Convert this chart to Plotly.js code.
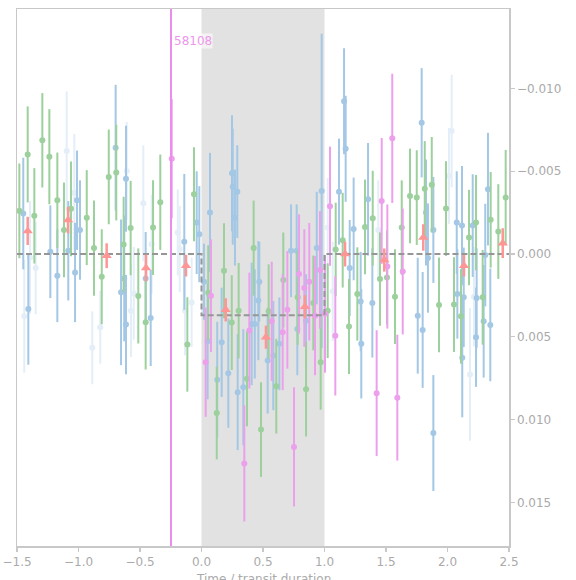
<!DOCTYPE html>
<html>
<head>
<meta charset="utf-8">
<script src="https://cdn.plot.ly/plotly-3.0.1.min.js"></script>
<style>
  html, body { margin: 0; padding: 0; background: #fff; }
  #plot { width: 576px; height: 580px; }
</style>
</head>
<body>
<div id="plot"></div>
<script>
// Phase-folded transit light curve: individual epochs plus binned averages.

// Epoch A (green)
const greenX = [-1.481,-1.413,-1.359,-1.294,-1.237,-1.172,-1.118,-1.061,-0.933,-0.874,-0.811,-0.754,-0.693,-0.633,-0.576,-0.514,-0.454,-0.394,-0.335,-0.115,-0.061,0.055,0.124,0.183,0.246,0.302,0.370,0.424,0.484,0.546,0.608,0.665,0.782,0.850,0.909,0.969,1.026,1.091,1.148,1.199,1.267,1.329,1.392,1.451,1.508,1.573,1.628,1.695,1.750,1.815,1.872,1.931,1.988,2.053,2.110,2.175,2.232,2.286,2.351,2.413,2.473];
const greenY = [-0.00261,-0.00602,-0.00231,-0.00687,-0.00588,-0.00325,-0.00146,-0.00273,-0.00220,-0.00036,0.00137,-0.00466,-0.00492,-0.00058,-0.00157,0.00253,0.00412,-0.00160,-0.00313,0.00546,-0.00361,0.00233,0.00960,0.00101,0.00414,0.00342,0.00753,-0.00036,0.01060,0.00346,0.00798,0.00157,0.00261,0.00816,0.00295,0.00653,0.00342,-0.00028,-0.00084,0.00438,0.00241,-0.00164,-0.00217,0.00151,0.00141,0.00257,-0.00160,-0.00351,-0.00341,-0.00395,-0.00419,0.00307,-0.00275,0.00305,0.00376,-0.00100,-0.00190,0.00261,-0.00207,-0.00136,-0.00341];
const greenErr = [0.00286,0.00290,0.00288,0.00285,0.00287,0.00288,0.00286,0.00286,0.00287,0.00288,0.00287,0.00286,0.00289,0.00288,0.00285,0.00287,0.00285,0.00286,0.00288,0.00285,0.00284,0.00286,0.00280,0.00287,0.00286,0.00288,0.00287,0.00287,0.00286,0.00284,0.00286,0.00287,0.00287,0.00286,0.00286,0.00287,0.00286,0.00282,0.00286,0.00287,0.00282,0.00286,0.00286,0.00282,0.00284,0.00286,0.00285,0.00286,0.00286,0.00287,0.00288,0.00286,0.00286,0.00286,0.00286,0.00288,0.00288,0.00286,0.00289,0.00286,0.00288];

// Epoch B (blue)
const blueX = [-1.449,-1.408,-1.229,-1.172,-1.083,-1.028,-1.012,-0.988,-0.698,-0.614,-0.654,-0.628,-0.614,-0.413,-0.454,-0.140,-0.039,-0.018,0.020,0.069,0.050,0.128,0.164,0.218,0.248,0.254,0.272,0.291,0.294,0.340,0.408,0.433,0.462,0.470,0.538,0.584,0.633,0.728,0.774,0.779,0.850,0.937,0.977,1.118,1.159,1.172,1.205,1.237,1.299,1.294,1.354,1.389,1.758,1.790,1.798,1.825,1.841,1.885,1.885,2.075,2.080,2.120,2.118,2.132,2.205,2.232,2.237,2.294,2.307,2.329,2.348];
const blueY = [-0.00245,0.00331,-0.00014,0.00131,-0.00020,0.00111,-0.00325,-0.00145,-0.00642,-0.00455,0.00231,0.00147,0.00426,0.00386,0.00147,-0.00074,-0.00190,-0.00120,0.00167,-0.00251,0.00527,0.00759,0.00533,0.00719,-0.00488,-0.00407,-0.00220,-0.00377,0.00834,0.00804,0.00422,0.00422,0.00281,0.00167,0.00643,0.00613,0.00542,-0.00020,-0.00020,0.00452,0.00402,-0.00036,-0.00381,-0.00377,-0.00923,-0.00636,0.00084,-0.00152,0.00542,0.00287,-0.00331,0.00295,0.00372,-0.00793,0.00458,-0.00251,0.00024,-0.00146,0.01081,-0.00190,0.00241,0.00626,-0.00172,0.00261,-0.00172,0.00502,0.00265,0.00406,0.00006,-0.00392,0.00428];
const blueErr = [0.00337,0.00337,0.00280,0.00280,0.00300,0.00300,0.00300,0.00300,0.00380,0.00320,0.00440,0.00380,0.00300,0.00290,0.00280,0.00410,0.00310,0.00290,0.00230,0.00360,0.00350,0.00350,0.00330,0.00330,0.00350,0.00350,0.00290,0.00280,0.00350,0.00350,0.00370,0.00330,0.00360,0.00240,0.00320,0.00330,0.00280,0.00280,0.00280,0.00280,0.00280,0.00340,0.00950,0.00320,0.00320,0.00320,0.00290,0.00310,0.00330,0.00300,0.00340,0.00330,0.00350,0.00330,0.00350,0.00320,0.00330,0.00320,0.00350,0.00310,0.00270,0.00360,0.00360,0.00300,0.00310,0.00300,0.00300,0.00340,0.00310,0.00340,0.00340];

// Epoch C (faint blue)
const paleX = [-1.441,-1.394,-1.348,-1.096,-1.034,-0.888,-0.823,-0.608,-0.573,-0.551,-0.473,-0.405,-0.193,-0.177,-0.134,-0.080,1.026,1.067,1.437,2.012,2.034,2.183,2.215];
const paleY = [0.00376,0.00020,0.00084,-0.00622,-0.00371,0.00566,0.00442,-0.00502,0.00342,0.00237,-0.00307,-0.00060,-0.00130,-0.00030,0.00342,0.00292,-0.00160,0.00225,-0.00145,-0.00472,-0.00743,0.00727,0.00257];
const paleErr = [0.00340,0.00340,0.00280,0.00360,0.00355,0.00220,0.00220,0.00295,0.00280,0.00280,0.00350,0.00300,0.00260,0.00260,0.00270,0.00270,0.00300,0.00300,0.00300,0.00290,0.00340,0.00400,0.00300];

// Epoch 58108 (violet)
const violetX = [-0.242,0.034,0.077,0.348,0.389,0.571,0.660,0.698,0.752,0.793,0.836,0.876,0.923,0.963,1.004,1.045,1.088,1.424,1.465,1.511,1.551,1.592,1.636];
const violetY = [-0.00576,0.00653,0.00251,0.01265,0.00462,0.00406,0.00472,0.00337,0.01165,0.00120,0.00205,0.00167,0.00372,0.00096,0.00361,-0.00289,0.00494,0.00840,-0.00321,0.00075,-0.00699,0.00867,0.00105];
const violetErr = [0.00360,0.00330,0.00340,0.00350,0.00350,0.00360,0.00350,0.00355,0.00360,0.00360,0.00355,0.00355,0.00360,0.00355,0.00355,0.00360,0.00360,0.00380,0.00380,0.00375,0.00390,0.00380,0.00380];

// Binned averages
const binX = [-1.413,-1.085,-0.771,-0.451,-0.126,0.197,0.524,0.841,1.167,1.486,1.803,2.134,2.449];
const binY = [-0.00140,-0.00205,0.00010,0.00084,0.00070,0.00337,0.00502,0.00318,0.00000,0.00036,-0.00100,0.00070,-0.00066];
const binErr = [0.00085,0.00080,0.00075,0.00080,0.00065,0.00070,0.00070,0.00070,0.00075,0.00070,0.00080,0.00065,0.00090];

// Box-shaped transit model
const modelX = [-1.5, 0, 0, 1, 1, 2.5];
const modelY = [0, 0, 0.0037, 0.0037, 0, 0];

// Mid-transit time of the highlighted epoch
const markerTime = -0.248;
const markerLabel = '58108';
const xTitle = 'Time / transit duration';

const yTicks = [-0.010, -0.005, 0.000, 0.005, 0.010, 0.015];
const xTicks = [-1.5, -1.0, -0.5, 0.0, 0.5, 1.0, 1.5, 2.0, 2.5];

function epoch(x, y, err, color) {
  return {
    type: 'scatter', mode: 'markers', x: x, y: y,
    marker: { color: color, size: 6 },
    error_y: { type: 'data', array: err, visible: true, color: color, thickness: 2, width: 0 },
    hoverinfo: 'none', showlegend: false
  };
}

const traces = [
  epoch(paleX, paleY, paleErr, 'rgb(228,238,248)'),
  epoch(blueX, blueY, blueErr, 'rgb(163,199,228)'),
  epoch(greenX, greenY, greenErr, 'rgb(156,208,156)'),
  epoch(violetX, violetY, violetErr, 'rgb(236,160,236)'),
  {
    type: 'scatter', mode: 'lines', x: modelX, y: modelY,
    line: { color: 'rgb(150,150,150)', width: 2, dash: '6px,3px' },
    hoverinfo: 'none', showlegend: false
  },
  {
    type: 'scatter', mode: 'markers', x: binX, y: binY,
    marker: { color: 'rgb(255,150,150)', size: 9, symbol: 'triangle-up' },
    error_y: { type: 'data', array: binErr, visible: true, color: 'rgb(255,150,150)', thickness: 2.5, width: 0 },
    hoverinfo: 'none', showlegend: false
  }
];

const axisGray = 'rgb(200,200,200)';
const textGray = 'rgb(170,170,170)';

const layout = {
  width: 576, height: 580,
  margin: { l: 17, r: 67, t: 9, b: 34 },
  paper_bgcolor: '#fff', plot_bgcolor: '#fff',
  font: { family: 'DejaVu Sans, sans-serif', size: 12, color: textGray },
  showlegend: false,
  xaxis: {
    range: [-1.5, 2.5], tickvals: xTicks, tickformat: '.1f',
    showgrid: false, zeroline: false,
    showline: true, mirror: true, linecolor: axisGray, linewidth: 1.5,
    ticks: 'outside', ticklen: 4, tickwidth: 1.2, tickcolor: axisGray,
    tickfont: { size: 12, color: textGray }
  },
  yaxis: {
    range: [0.01763, -0.0148], side: 'right', tickvals: yTicks, tickformat: '.3f',
    showgrid: false, zeroline: false,
    showline: true, mirror: true, linecolor: axisGray, linewidth: 1.5,
    ticks: 'outside', ticklen: 4, tickwidth: 1.2, tickcolor: axisGray,
    tickfont: { size: 12, color: textGray }
  },
  shapes: [
    { type: 'rect', xref: 'x', yref: 'paper', x0: 0, x1: 1, y0: 0, y1: 1,
      fillcolor: 'rgb(226,226,226)', line: { width: 0 }, layer: 'below' },
    { type: 'line', xref: 'x', yref: 'paper', x0: markerTime, x1: markerTime, y0: 0, y1: 1,
      line: { color: 'rgb(236,140,236)', width: 2 }, layer: 'above' }
  ],
  annotations: [
    { xref: 'x', yref: 'paper', x: markerTime, y: 0.94, xanchor: 'left', yanchor: 'middle',
      xshift: 2, text: markerLabel, showarrow: false,
      font: { size: 12, color: 'rgb(236,150,236)' }, bgcolor: 'rgba(255,255,255,0.6)', borderpad: 0 },
    // x-axis title, set just below the tick labels
    { xref: 'paper', yref: 'paper', x: 0.5, y: 0, xanchor: 'center', yanchor: 'top',
      yshift: -25, text: xTitle, showarrow: false, borderpad: 0,
      font: { size: 12, color: textGray } }
  ]
};

Plotly.newPlot('plot', traces, layout, { staticPlot: true, displayModeBar: false });
</script>
</body>
</html>
